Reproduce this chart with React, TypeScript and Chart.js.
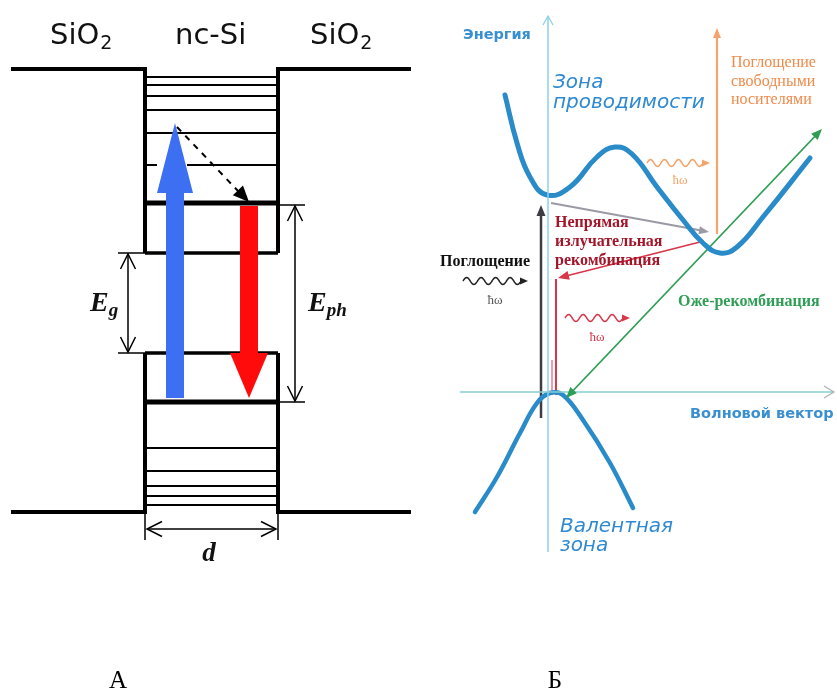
import React, { useEffect, useRef } from "react";
import { Chart, registerables } from "chart.js";
Chart.register(...registerables);

const W = 837;
const H = 691;

// ---------- Panel A (nc-Si quantum well), energy positions ----------
const wallX = [145, 278];
const outerX = [11, 411];
const barrierTopE = 69;
const barrierBottomE = 512;
const cbWellBottomE = 253;
const vbWellTopE = 353;
const electronLevelE = 203;
const holeLevelE = 402;
const cbLevels = [77, 85, 96, 110, 133];
const cbLevelBroken = 165;
const vbLevels = [448, 471, 486, 496, 505];
const panelATitles = ["SiO", "nc-Si", "SiO"];
const panelATitleX = [50, 175, 310];

// ---------- Panel B (band diagram in k-space) ----------
const cbK = [505, 517, 530, 547, 570, 597, 615, 632, 657, 683, 703, 720, 737, 763, 810];
const cbE = [95, 143, 177, 195, 187, 157, 147, 154, 187, 220, 243, 253, 247, 217, 158];
const vbK = [475, 497, 520, 537, 550, 563, 583, 610, 633];
const vbE = [512, 477, 433, 403, 393, 395, 420, 463, 508];
const axisK0 = 548;
const axisE0 = 392;

const labelsB = {
  energy: "Энергия",
  cb: ["Зона", "проводимости"],
  vb: ["Валентная", "зона"],
  wave: "Волновой вектор",
  freeCarrier: ["Поглощение", "свободными", "носителями"],
  indirect: ["Непрямая", "излучательная", "рекомбинация"],
  absorption: "Поглощение",
  auger: "Оже-рекомбинация",
  photon: "ħω",
};
const panelLetters = ["А", "Б"];

type P = [number, number];
const line = (pts: P[], color: string, width: number, extra: any = {}) => ({
  data: pts.map(([x, y]) => ({ x, y })),
  showLine: true,
  borderColor: color,
  backgroundColor: color,
  borderWidth: width,
  pointRadius: 0,
  pointHoverRadius: 0,
  clip: false,
  tension: 0,
  borderCapStyle: "butt",
  borderJoinStyle: "miter",
  ...extra,
});

const BLACK = "#000";
const datasets: any[] = [];
// well outline
datasets.push(line([[outerX[0], barrierTopE], [wallX[0], barrierTopE], [wallX[0], cbWellBottomE]], BLACK, 4));
datasets.push(line([[outerX[1], barrierTopE], [wallX[1], barrierTopE], [wallX[1], cbWellBottomE]], BLACK, 4));
datasets.push(line([[outerX[0], barrierBottomE], [wallX[0], barrierBottomE], [wallX[0], vbWellTopE]], BLACK, 4));
datasets.push(line([[outerX[1], barrierBottomE], [wallX[1], barrierBottomE], [wallX[1], vbWellTopE]], BLACK, 4));
// thick levels
datasets.push(line([[wallX[0], electronLevelE], [wallX[1], electronLevelE]], BLACK, 5));
datasets.push(line([[wallX[0], holeLevelE], [wallX[1], holeLevelE]], BLACK, 5));
datasets.push(line([[wallX[0], cbWellBottomE], [wallX[1], cbWellBottomE]], BLACK, 3.5));
datasets.push(line([[wallX[0], vbWellTopE], [wallX[1], vbWellTopE]], BLACK, 3.5));
// extension lines
datasets.push(line([[118, cbWellBottomE], [wallX[0], cbWellBottomE]], BLACK, 1.5));
datasets.push(line([[118, vbWellTopE], [wallX[0], vbWellTopE]], BLACK, 1.5));
datasets.push(line([[wallX[1], electronLevelE + 2], [305, electronLevelE + 2]], BLACK, 1.5));
datasets.push(line([[wallX[1], holeLevelE], [305, holeLevelE]], BLACK, 1.5));
// thin levels
cbLevels.forEach((e) => datasets.push(line([[wallX[0] + 2, e], [wallX[1] - 2, e]], BLACK, 2)));
datasets.push(line([[wallX[0] + 2, cbLevelBroken], [157, cbLevelBroken]], BLACK, 2));
datasets.push(line([[187, cbLevelBroken], [wallX[1] - 2, cbLevelBroken]], BLACK, 2));
vbLevels.forEach((e) => datasets.push(line([[wallX[0] + 2, e], [wallX[1] - 2, e]], BLACK, 2)));
// d dimension
datasets.push(line([[wallX[0], barrierBottomE], [wallX[0], 540]], BLACK, 1.5));
datasets.push(line([[wallX[1], barrierBottomE], [wallX[1], 540]], BLACK, 1.5));
datasets.push(line([[wallX[0] + 2, 529], [wallX[1] - 2, 529]], BLACK, 1.5));
// Eg, Eph
datasets.push(line([[128, cbWellBottomE + 1], [128, vbWellTopE - 1]], BLACK, 1.5));
datasets.push(line([[295, electronLevelE + 3], [295, holeLevelE - 1]], BLACK, 1.5));

// Panel B
const AXIS_V = "#8fd0e8";
const AXIS_H = "#86cdd2";
const BAND = "#2a8bc9";
datasets.push(line([[axisK0, 552], [axisK0, 17]], AXIS_V, 1.5));
datasets.push(line([[460, axisE0], [833, axisE0]], AXIS_H, 1.5));
datasets.push(line(cbK.map((k, i) => [k, cbE[i]] as P), BAND, 5, { tension: 0.45, borderCapStyle: "round" }));
datasets.push(line(vbK.map((k, i) => [k, vbE[i]] as P), BAND, 4.5, { tension: 0.4, borderCapStyle: "round" }));
// transitions
const GREEN = "#2f9e55";
const ORANGE = "#f4a46a";
const GRAY = "#9a9aa6";
const DARK = "#3d3d44";
const RED = "#d8364a";
datasets.push(line([[567, 397], [820, 131]], GREEN, 1.8));
datasets.push(line([[717, 234], [717, 32]], ORANGE, 2.2));
datasets.push(line([[551, 203], [704, 231]], GRAY, 1.8));
datasets.push(line([[541, 418], [541, 214]], DARK, 2.5));
datasets.push(line([[704, 241], [566, 276]], RED, 1.8));
datasets.push(line([[556, 279], [556, 395]], RED, 2));
datasets.push(line([[552, 360], [552, 395]], "#e08090", 1.5));

const drawPlugin = {
  id: "diagram",
  afterDatasetsDraw(chart: any) {
    const ctx: CanvasRenderingContext2D = chart.ctx;
    const sx = chart.scales.x;
    const sy = chart.scales.y;
    const X = (v: number) => sx.getPixelForValue(v);
    const Y = (v: number) => sy.getPixelForValue(v);
    ctx.save();

    const filledHead = (x1: number, y1: number, x2: number, y2: number, len: number, hw: number, color: string) => {
      const a = Math.atan2(Y(y2) - Y(y1), X(x2) - X(x1));
      const tx = X(x2), ty = Y(y2);
      const bx = tx - len * Math.cos(a), by = ty - len * Math.sin(a);
      ctx.beginPath();
      ctx.moveTo(tx, ty);
      ctx.lineTo(bx + hw * Math.sin(a), by - hw * Math.cos(a));
      ctx.lineTo(bx - hw * Math.sin(a), by + hw * Math.cos(a));
      ctx.closePath();
      ctx.fillStyle = color;
      ctx.fill();
    };
    const openHead = (x1: number, y1: number, x2: number, y2: number, len: number, hw: number, color: string, lw: number) => {
      const a = Math.atan2(Y(y2) - Y(y1), X(x2) - X(x1));
      const tx = X(x2), ty = Y(y2);
      const bx = tx - len * Math.cos(a), by = ty - len * Math.sin(a);
      ctx.beginPath();
      ctx.moveTo(bx + hw * Math.sin(a), by - hw * Math.cos(a));
      ctx.lineTo(tx, ty);
      ctx.lineTo(bx - hw * Math.sin(a), by + hw * Math.cos(a));
      ctx.strokeStyle = color;
      ctx.lineWidth = lw;
      ctx.stroke();
    };
    const text = (t: string, x: number, y: number, font: string, color: string, align: CanvasTextAlign = "left") => {
      ctx.font = font;
      ctx.fillStyle = color;
      ctx.textAlign = align;
      ctx.textBaseline = "alphabetic";
      ctx.fillText(t, X(x), Y(y));
      return ctx.measureText(t).width;
    };
    const wave = (x1: number, x2: number, y: number, amp: number, periods: number, color: string, lw: number) => {
      const p1 = X(x1), p2 = X(x2) - 7, py = Y(y);
      ctx.beginPath();
      for (let i = 0; i <= 80; i++) {
        const px = p1 + ((p2 - p1) * i) / 80;
        const yy = py - amp * Math.sin((i / 80) * periods * 2 * Math.PI);
        if (i === 0) ctx.moveTo(px, yy); else ctx.lineTo(px, yy);
      }
      ctx.strokeStyle = color;
      ctx.lineWidth = lw;
      ctx.stroke();
      filledHead(x1, y, x2, y, 8, 3.5, color);
    };

    // ---- Panel A ----
    openHead(128, 300, 128, cbWellBottomE + 1, 15, 7.5, BLACK, 1.5);
    openHead(128, 300, 128, vbWellTopE - 1, 15, 7.5, BLACK, 1.5);
    openHead(295, 300, 295, electronLevelE + 3, 15, 7.5, BLACK, 1.5);
    openHead(295, 300, 295, holeLevelE - 1, 15, 7.5, BLACK, 1.5);
    openHead(210, 529, wallX[0] + 2, 529, 15, 7.5, BLACK, 1.5);
    openHead(210, 529, wallX[1] - 2, 529, 15, 7.5, BLACK, 1.5);

    // blue excitation arrow
    ctx.fillStyle = "#3d6ff2";
    ctx.fillRect(X(166), Y(191), X(184) - X(166), Y(398) - Y(191));
    filledHead(175, 300, 175, 123, 70, 18, "#3d6ff2");
    // red emission arrow
    ctx.fillStyle = "#ff0b0b";
    ctx.fillRect(X(240), Y(206), X(258) - X(240), Y(356) - Y(206));
    filledHead(249, 250, 249, 398, 45, 19, "#ff0b0b");
    // dashed relaxation arrow
    ctx.beginPath();
    ctx.setLineDash([6, 6]);
    ctx.moveTo(X(177), Y(127));
    ctx.lineTo(X(238), Y(191));
    ctx.strokeStyle = BLACK;
    ctx.lineWidth = 2;
    ctx.stroke();
    ctx.setLineDash([]);
    filledHead(177, 127, 249, 202, 16, 7, BLACK);

    // titles
    const titleFont = '29px "DejaVu Sans"';
    const subFont = '19px "DejaVu Sans"';
    panelATitles.forEach((t, i) => {
      const w = text(t, panelATitleX[i], 44, titleFont, "#111");
      if (t === "SiO") text("2", panelATitleX[i] + w + 1, 49, subFont, "#111");
    });
    const eFont = 'bold italic 28px "Liberation Serif"';
    const eSub = 'bold italic 19px "Liberation Serif"';
    let w = text("E", 90, 311, eFont, "#111");
    text("g", 90 + w, 316, eSub, "#111");
    w = text("E", 308, 311, eFont, "#111");
    text("ph", 308 + w, 316, eSub, "#111");
    text("d", 209, 561, 'bold italic 27px "Liberation Serif"', "#111", "center");

    // ---- Panel B ----
    openHead(axisK0, 100, axisK0, 16, 9, 5, AXIS_V, 1.3);
    openHead(700, axisE0, 834, axisE0, 10, 6, "#a9b4b8", 1.3);
    filledHead(567, 397, 822, 129, 11, 4.5, GREEN);
    filledHead(820, 131, 566, 398, 11, 4.5, GREEN);
    filledHead(717, 234, 717, 28, 10, 4, ORANGE);
    filledHead(551, 203, 709, 232, 10, 4, GRAY);
    filledHead(541, 418, 541, 205, 11, 4.5, DARK);
    filledHead(704, 241, 558, 278, 11, 4.5, RED);

    wave(647, 710, 163, 3.5, 4, ORANGE, 1.5);
    wave(463, 528, 281, 3.5, 4, "#222", 1.5);
    wave(565, 630, 318, 3.5, 4, RED, 1.5);

    const serifSmall = '13px "Liberation Serif"';
    text(labelsB.photon, 680, 184, serifSmall, ORANGE, "center");
    text(labelsB.photon, 495, 304, serifSmall, "#555", "center");
    text(labelsB.photon, 597, 341, serifSmall, RED, "center");

    text(labelsB.energy, 463, 39, 'bold 14.5px "DejaVu Sans"', "#3a8fd0");
    text(labelsB.wave, 690, 418, 'bold 14.5px "DejaVu Sans"', "#3a8fd0");
    const itFont = 'italic 20px "DejaVu Sans"';
    text(labelsB.cb[0], 553, 88, itFont, "#2f8ad2");
    text(labelsB.cb[1], 553, 108, itFont, "#2f8ad2");
    text(labelsB.vb[0], 560, 532, itFont, "#2f8ad2");
    text(labelsB.vb[1], 560, 551, itFont, "#2f8ad2");

    const fcFont = '16px "Liberation Serif"';
    labelsB.freeCarrier.forEach((t, i) => text(t, 731, 67 + i * 18.5, fcFont, "#f08a4a"));
    const boldSerif = 'bold 16px "Liberation Serif"';
    labelsB.indirect.forEach((t, i) => text(t, 555, 227 + i * 19, boldSerif, "#a3162a"));
    text(labelsB.absorption, 440, 266, boldSerif, "#111");
    text(labelsB.auger, 678, 306, boldSerif, "#2f9e55");

    const letterFont = '25px "Liberation Serif"';
    text(panelLetters[0], 118, 688, letterFont, "#000", "center");
    text(panelLetters[1], 555, 688, letterFont, "#000", "center");

    ctx.restore();
  },
};

export default function App() {
  const ref = useRef<HTMLCanvasElement>(null);
  useEffect(() => {
    const chart = new Chart(ref.current as HTMLCanvasElement, {
      type: "scatter",
      data: { datasets },
      options: {
        animation: false,
        responsive: false,
        maintainAspectRatio: false,
        events: [],
        layout: { padding: 0 },
        plugins: { legend: { display: false }, tooltip: { enabled: false } },
        scales: {
          x: { type: "linear", min: 0, max: W, display: false },
          y: { type: "linear", min: 0, max: H, reverse: true, display: false },
        },
      } as any,
      plugins: [drawPlugin],
    });
    return () => chart.destroy();
  }, []);
  return (
    <div style={{ position: "absolute", left: 0, top: 0, width: W, height: H, background: "#fff" }}>
      <canvas ref={ref} width={W} height={H} style={{ display: "block" }} />
    </div>
  );
}
